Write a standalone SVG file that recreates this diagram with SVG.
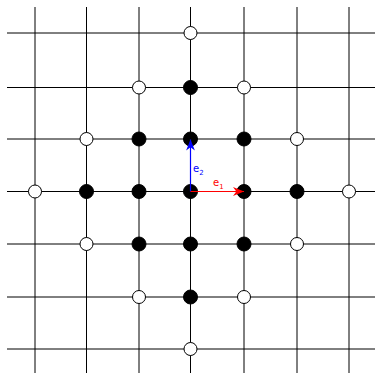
<svg xmlns="http://www.w3.org/2000/svg" width="375" height="374" viewBox="0 0 375 374">
<defs>
<style>
.g{stroke:#000;stroke-width:1;fill:none}
.f{fill:#000;stroke:#000;stroke-width:1}
.o{fill:#fff;stroke:#000;stroke-width:1}
.lb{font-family:"DejaVu Sans",sans-serif;font-size:10px}
</style>
<marker id="ab" viewBox="0 0 10 10" refX="10" refY="5" markerWidth="11" markerHeight="11" markerUnits="userSpaceOnUse" orient="auto"><path d="M0,1 L10,5 L0,9 L3,5 Z" fill="#0000ff"/></marker>
<marker id="ar" viewBox="0 0 10 10" refX="10" refY="5" markerWidth="11" markerHeight="11" markerUnits="userSpaceOnUse" orient="auto"><path d="M0,1 L10,5 L0,9 L3,5 Z" fill="#ff0000"/></marker>
</defs>
<g id="connectors">
<g class="g">
<line x1="35" y1="7" x2="35" y2="373"/>
<line x1="86.5" y1="7" x2="86.5" y2="373"/>
<line x1="139" y1="7" x2="139" y2="373"/>
<line x1="190.5" y1="7" x2="190.5" y2="373"/>
<line x1="244" y1="7" x2="244" y2="373"/>
<line x1="297" y1="7" x2="297" y2="373"/>
<line x1="349" y1="7" x2="349" y2="373"/>
<line x1="7" y1="33" x2="375" y2="33"/>
<line x1="7" y1="87.5" x2="375" y2="87.5"/>
<line x1="7" y1="139" x2="375" y2="139"/>
<line x1="7" y1="191.5" x2="375" y2="191.5"/>
<line x1="7" y1="244" x2="375" y2="244"/>
<line x1="7" y1="297" x2="375" y2="297"/>
<line x1="7" y1="349" x2="375" y2="349"/>
</g>
</g>
<g id="nodes">
<g id="filled">
<circle class="f" cx="190.5" cy="87.5" r="7"/>
<circle class="f" cx="139" cy="139" r="7"/>
<circle class="f" cx="190.5" cy="139" r="7"/>
<circle class="f" cx="244" cy="139" r="7"/>
<circle class="f" cx="86.5" cy="191.5" r="7"/>
<circle class="f" cx="139" cy="191.5" r="7"/>
<circle class="f" cx="190.5" cy="191.5" r="7"/>
<circle class="f" cx="244" cy="191.5" r="7"/>
<circle class="f" cx="297" cy="191.5" r="7"/>
<circle class="f" cx="139" cy="244" r="7"/>
<circle class="f" cx="190.5" cy="244" r="7"/>
<circle class="f" cx="244" cy="244" r="7"/>
<circle class="f" cx="190.5" cy="297" r="7"/>
</g>
<g id="open">
<circle class="o" cx="190.5" cy="33" r="6.5"/>
<circle class="o" cx="139" cy="87.5" r="6.5"/>
<circle class="o" cx="244" cy="87.5" r="6.5"/>
<circle class="o" cx="86.5" cy="139" r="6.5"/>
<circle class="o" cx="297" cy="139" r="6.5"/>
<circle class="o" cx="35" cy="191.5" r="6.5"/>
<circle class="o" cx="349" cy="191.5" r="6.5"/>
<circle class="o" cx="86.5" cy="244" r="6.5"/>
<circle class="o" cx="297" cy="244" r="6.5"/>
<circle class="o" cx="139" cy="297" r="6.5"/>
<circle class="o" cx="244" cy="297" r="6.5"/>
<circle class="o" cx="190.5" cy="349" r="6.5"/>
</g>
</g>
<g id="vectors">
<line x1="190.5" y1="191.5" x2="190.5" y2="139.5" stroke="#0000ff" stroke-width="1.2" marker-end="url(#ab)"/>
<line x1="190.5" y1="191.5" x2="244" y2="191.5" stroke="#ff0000" stroke-width="1.2" marker-end="url(#ar)"/>
<text class="lb" x="193" y="172" fill="#0000ff">e<tspan font-size="7" dy="2.5">2</tspan></text>
<text class="lb" x="213" y="186" fill="#ff0000">e<tspan font-size="7" dy="2.5">1</tspan></text>
</g>
</svg>
